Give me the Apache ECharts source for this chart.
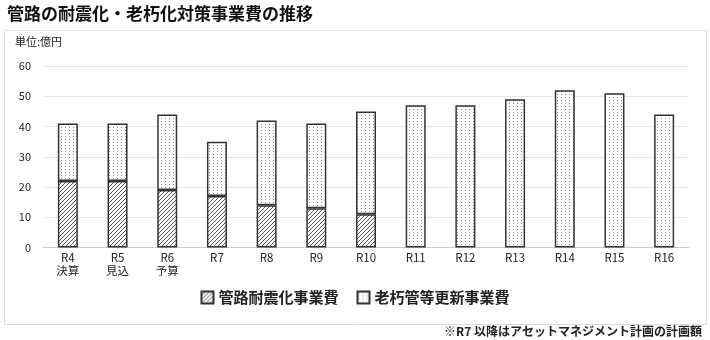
<!DOCTYPE html>
<html><head><meta charset="utf-8">
<script src="https://cdn.jsdelivr.net/npm/echarts@6/dist/echarts.min.js"></script>
<style>html,body{margin:0;padding:0;background:#fff}#c{width:710px;height:340px}</style>
</head><body><div id="c"></div>
<script>
const categories = ['R4\n決算','R5\n見込','R6\n予算','R7','R8','R9','R10','R11','R12','R13','R14','R15','R16'];
const seismicValues = [22, 22, 19, 17, 14, 13, 11, 0, 0, 0, 0, 0, 0];
const renewalValues = [19, 19, 25, 18, 28, 28, 34, 47, 47, 49, 52, 51, 44];
const yTicks = [0, 10, 20, 30, 40, 50, 60];
const seriesNames = ['管路耐震化事業費', '老朽管等更新事業費'];

const FONT = '"Noto Sans CJK JP", "Noto Sans", sans-serif';

function hatchPattern() {
  const c = document.createElement('canvas');
  c.width = 4; c.height = 4;
  const g = c.getContext('2d');
  g.fillStyle = '#fff'; g.fillRect(0,0,4,4);
  g.strokeStyle = '#555'; g.lineWidth = 1;
  g.beginPath();
  g.moveTo(-1,5); g.lineTo(5,-1);
  g.moveTo(-1,1); g.lineTo(1,-1);
  g.moveTo(3,5); g.lineTo(5,3);
  g.stroke();
  return c;
}
function dotPattern() {
  const c = document.createElement('canvas');
  c.width = 4; c.height = 3;
  const g = c.getContext('2d');
  g.fillStyle = '#fff'; g.fillRect(0,0,4,3);
  g.fillStyle = '#888';
  g.fillRect(1,1,1,1);
  return c;
}
const nz = v => (v === 0 ? null : v);

const chart = echarts.init(document.getElementById('c'));
chart.setOption({
  backgroundColor: '#fff',
  animation: false,
  title: {
    text: '管路の耐震化・老朽化対策事業費の推移',
    left: 2, top: 0,
    textStyle: { fontFamily: FONT, fontSize: 17, fontWeight: 'bold', color: '#111' }
  },
  graphic: [
    { type: 'rect', shape: { x: 4.5, y: 30.5, width: 702, height: 294 }, style: { fill: 'none', stroke: '#ddd', lineWidth: 1 }, z: 0 },
    { type: 'text', left: 15, top: 36, style: { text: '単位:億円', font: '11px ' + FONT, fill: '#222' } },
    { type: 'text', right: 8, top: 325, style: { text: '※R7 以降はアセットマネジメント計画の計画額', font: 'bold 12px ' + FONT, fill: '#222' } }
  ],
  legend: {
    data: seriesNames,
    left: 'center', top: 285,
    icon: 'rect',
    itemWidth: 12, itemHeight: 12, itemGap: 18,
    textStyle: { fontFamily: FONT, fontSize: 15, fontWeight: 'bold', color: '#222' }
  },
  grid: { left: 43, right: 21, top: 66, bottom: 92.5 },
  xAxis: {
    type: 'category', data: categories,
    axisLine: { lineStyle: { color: '#ccc' } },
    axisTick: { show: false },
    axisLabel: { fontFamily: FONT, fontSize: 11.5, color: '#222', lineHeight: 13, margin: 4 }
  },
  yAxis: {
    type: 'value', min: yTicks[0], max: yTicks[yTicks.length-1], interval: 10,
    axisLine: { show: false }, axisTick: { show: false },
    splitLine: { lineStyle: { color: '#e6e6e6' } },
    axisLabel: { fontFamily: FONT, fontSize: 11, color: '#222', margin: 12 }
  },
  series: [
    { name: seriesNames[0], type: 'bar', stack: 'a', data: seismicValues.map(nz), barWidth: 20,
      itemStyle: { color: { image: hatchPattern(), repetition: 'repeat' }, borderColor: '#333', borderWidth: 1.5 } },
    { name: seriesNames[1], type: 'bar', stack: 'a', data: renewalValues.map(nz), barWidth: 20,
      itemStyle: { color: { image: dotPattern(), repetition: 'repeat' }, borderColor: '#333', borderWidth: 1.5 } }
  ]
});
</script></body></html>
